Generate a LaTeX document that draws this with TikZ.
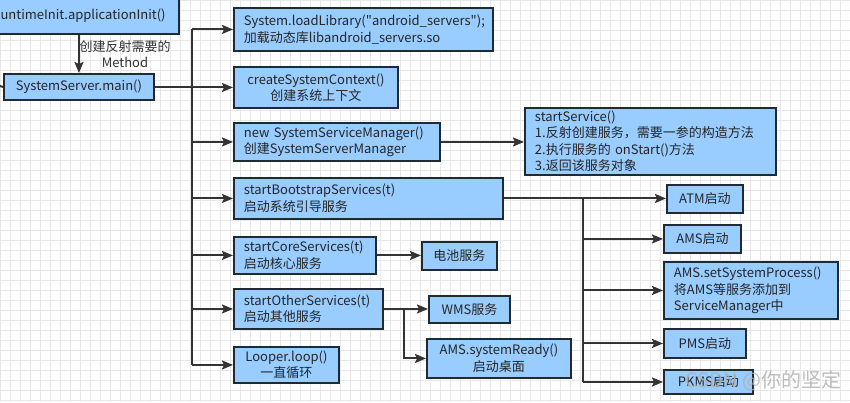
\documentclass[tikz,border=0pt]{standalone}
\usepackage{fontspec}
\setmainfont{Noto Sans CJK SC}
\setmonofont{Noto Sans CJK SC}
\newcommand{\dq}{{\ttfamily\char34}}
\usetikzlibrary{arrows.meta}
\definecolor{boxfill}{HTML}{99CCFF}
\definecolor{boxline}{HTML}{1F2A33}
\definecolor{conncol}{HTML}{333333}
\definecolor{gridcol}{HTML}{E8E8E8}
\begin{document}
\begin{tikzpicture}[x=1pt,y=-1pt,
  box/.style={draw=boxline, fill=boxfill, line width=1.9pt, inner xsep=10pt, inner ysep=0pt,
    anchor=north west, font=\fontsize{13}{16.5}\selectfont, text=black!85},
  lbox/.style={box, align=left},
  cbox/.style={box, align=center},
  conn/.style={draw=conncol, line width=2pt},
  arr/.style={conn, -{Stealth[length=11pt,width=9pt,inset=2pt]}},
  lab/.style={font=\fontsize{13}{16.5}\selectfont, text=black!80, align=center},
]
\useasboundingbox (0,0) rectangle (850,402);
\clip (0,0) rectangle (850,402);
\fill[white] (0,0) rectangle (850,402);
\foreach \i in {0,10,...,850} \draw[gridcol, line width=0.6pt] (\i,0) -- (\i,402);
\foreach \j in {0,10,...,400} \draw[gridcol, line width=0.6pt] (0,\j) -- (850,\j);

% nodes
\node[cbox, minimum width=200pt, minimum height=36pt] (rt) at (-22,-3) {RuntimeInit.applicationInit()};
\node[cbox, minimum width=150pt, minimum height=26pt] (main) at (3,73) {SystemServer.main()};
\node[lbox, minimum width=259pt, minimum height=43pt, text width=239pt] (load) at (233,7)
  {System.loadLibrary(\dq android\_servers\dq);\\加载动态库libandroid\_servers.so};
\node[cbox, minimum width=164pt, minimum height=41pt] (ctx) at (233,66) {createSystemContext()\\创建系统上下文};
\node[lbox, minimum width=206pt, minimum height=38pt, text width=186pt] (ssm) at (233,122)
  {new~SystemServiceManager()\\创建SystemServerManager};
\node[lbox, minimum width=251pt, minimum height=67pt, text width=231pt] (svc) at (524,107)
  {startService()\\1.反射创建服务，需要一参的构造方法\\2.执行服务的~onStart()方法\\3.返回该服务对象};
\node[lbox, minimum width=269pt, minimum height=41pt, text width=249pt] (boot) at (233,177)
  {startBootstrapServices(t)\\启动系统引导服务};
\node[lbox, minimum width=142pt, minimum height=37pt, text width=122pt] (core) at (233,236)
  {startCoreServices(t)\\启动核心服务};
\node[cbox, minimum width=75pt, minimum height=28pt] (bat) at (421,241) {电池服务};
\node[lbox, minimum width=149pt, minimum height=40pt, text width=129pt] (other) at (233,288)
  {startOtherServices(t)\\启动其他服务};
\node[cbox, minimum width=81pt, minimum height=27pt] (wms) at (428,295) {WMS服务};
\node[cbox, minimum width=144pt, minimum height=39pt] (ready) at (426,338) {AMS.systemReady()\\启动桌面};
\node[cbox, minimum width=105pt, minimum height=36pt] (looper) at (233,346) {Looper.loop()\\一直循环};
\node[cbox, minimum width=76pt, minimum height=28pt] (atm) at (666,184) {ATM启动};
\node[cbox, minimum width=77pt, minimum height=28pt] (ams) at (663,224) {AMS启动};
\node[lbox, minimum width=174pt, minimum height=57pt, text width=154pt] (proc) at (663,261)
  {AMS.setSystemProcess()\\将AMS等服务添加到\\ServiceManager中};
\node[cbox, minimum width=82pt, minimum height=29pt] (pms) at (663,328) {PMS启动};
\node[cbox, minimum width=89pt, minimum height=24pt] (pkms) at (663,369) {PKMS启动};

\node[lab] (lbl) at (125,54) {创建反射需要的\\Method};

% connectors
\coordinate (tr) at (192,0);
\coordinate (b2) at (583,0);
\coordinate (b3) at (404,0);
\coordinate (ls) at (0,86);

\draw[arr] (rt.south) -- (main.north);
\draw[conn] (ls) -- (main.west);
\draw[conn] (main.east) -- (tr|-main.east);
\draw[conn] (tr|-load.west) -- (tr|-looper.west);
\foreach \n in {load,ctx,ssm,boot,core,other,looper}
  \draw[arr] (tr|-\n.west) -- (\n.west);
\draw[arr] (ssm.east) -- (ssm.east -| svc.west);
\draw[arr] (core.east) -- (core.east -| bat.west);
\draw[arr] (other.east) -- (other.east -| wms.west);
\draw[arr] (b3|-other.east) -- (b3|-ready.west) -- (ready.west);
\draw[arr] (boot.east) -- (boot.east -| atm.west);
\draw[conn] (b2|-boot.east) -- (b2|-pkms.west);
\foreach \n in {ams,proc,pms,pkms}
  \draw[arr] (b2|-\n.west) -- (\n.west);

% watermark
\node[text=gray!60, opacity=0.85, font=\fontsize{20}{20}\selectfont, anchor=west] (wm) at (682,381) {CSDN @你的坚定};
\end{tikzpicture}
\end{document}
